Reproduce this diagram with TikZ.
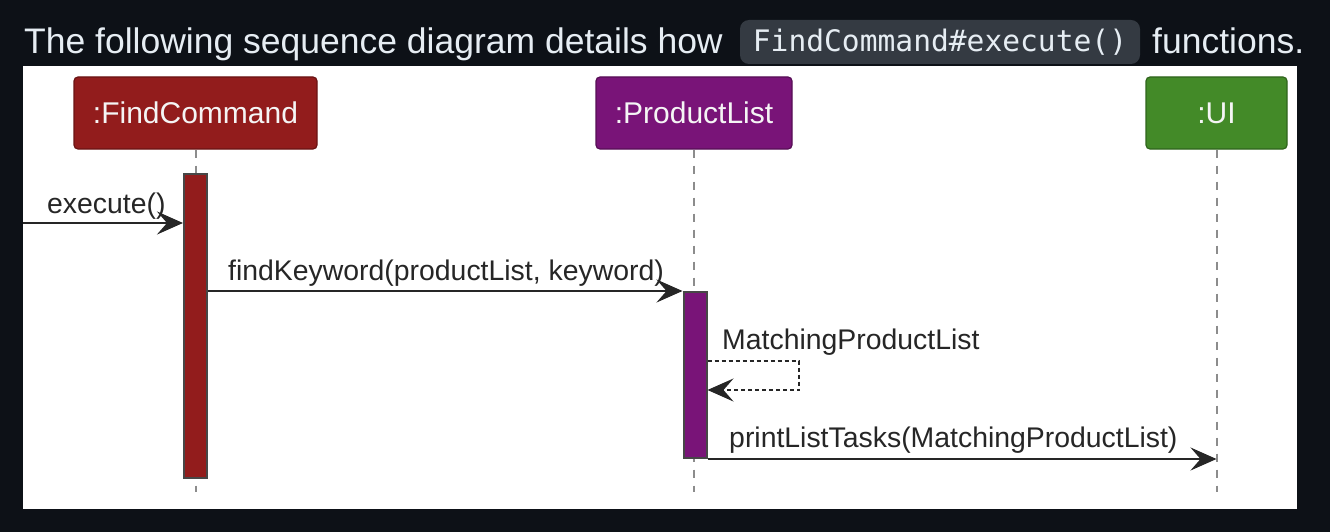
\documentclass[tikz,border=0pt]{standalone}
\usepackage{fontspec}
\setmainfont{Liberation Sans}
\newfontfamily\codefont{DejaVu Sans Mono}
\usetikzlibrary{arrows.meta}
\definecolor{pagebg}{HTML}{0D1117}
\definecolor{titlefg}{HTML}{E6EDF3}
\definecolor{pillbg}{HTML}{343A42}
\definecolor{fcred}{HTML}{921C1C}
\definecolor{fcredd}{HTML}{6A1414}
\definecolor{plpurple}{HTML}{791478}
\definecolor{plpurpled}{HTML}{560E55}
\definecolor{uigreen}{HTML}{438A28}
\definecolor{uigreend}{HTML}{2F641C}
\definecolor{msgfg}{HTML}{262626}
\definecolor{lifegray}{HTML}{8C8C8C}
\tikzset{
  titletext/.style={anchor=base west, inner sep=0pt, text=titlefg, font=\fontsize{35.5}{40}\selectfont},
  part/.style={rounded corners=4pt, line width=1.2pt, minimum height=72pt, inner sep=0pt, text=white!92!gray, font=\fontsize{30}{34}\selectfont},
  lifeline/.style={draw=lifegray, line width=2pt, dash pattern=on 8pt off 8pt},
  actbar/.style={draw=msgfg!85, line width=2pt, minimum width=23pt, inner sep=0pt},
  msg/.style={draw=msgfg, line width=2.2pt, -{Stealth[length=26pt,width=23pt,inset=10pt]}},
  selfmsg/.style={draw=msgfg, line width=1.8pt, dash pattern=on 4pt off 3pt, -{Stealth[length=26pt,width=23pt,inset=10pt]}},
  msglabel/.style={anchor=base west, inner sep=0pt, text=msgfg, font=\fontsize{28.4}{32}\selectfont}
}
\begin{document}
\begin{tikzpicture}[x=1pt,y=-1pt]
\fill[pagebg] (0,0) rectangle (1330,532);
\useasboundingbox (0,0) rectangle (1330,532);
% title
\node[titletext] (t1) at (24,53.5) {The following sequence diagram details how};
\node[fill=pillbg, rounded corners=9pt, minimum width=400pt, minimum height=44pt, inner sep=0pt] (pill) at (940,42) {};
\node[anchor=base, inner sep=0pt, text=titlefg, font=\codefont\fontsize{29.6}{34}\selectfont] (pilltext) at (940,52) {FindCommand\#execute()};
\node[titletext] (t2) at (1152,53.5) {functions.};
% panel
\fill[white] (23,66) rectangle (1297,509);
% participants
\node[part, fill=fcred, draw=fcredd, minimum width=243pt] (fc) at (195.5,113) {:FindCommand};
\node[part, fill=plpurple, draw=plpurpled, minimum width=196pt] (pl) at (694,113) {:ProductList};
\node[part, fill=uigreen, draw=uigreend, minimum width=141pt] (ui) at (1216.5,113) {:UI};
% lifeline ends
\coordinate (fcend) at (195.5,492);
\coordinate (plend) at (694,492);
\coordinate (uiend) at (1216.5,492);
\draw[lifeline] (fc.south) -- (fcend);
\draw[lifeline] (pl.south) -- (plend);
\draw[lifeline] (ui.south) -- (uiend);
% activation bars
\node[actbar, fill=fcred, minimum height=304pt] (fca) at (195.5,326) {};
\node[actbar, fill=plpurple, minimum height=166pt] (pla) at (695,375) {};
% messages
\coordinate (ext) at (23,223);
\draw[msg] (ext) -- (fca.west |- ext);
\node[msglabel] (l1) at (47,213) {execute()};
\draw[msg] (fca.east |- pla.north) -- (pla.north west);
\node[msglabel] (l2) at (228,280) {findKeyword(productList, keyword)};
\coordinate (s1) at (799,361);
\coordinate (s2) at (799,390);
\draw[selfmsg] (pla.east |- s1) -- (s1) -- (s2) -- (pla.east |- s2);
\node[msglabel] (l3) at (722,349) {MatchingProductList};
\draw[msg] (pla.south east) -- (ui.south |- pla.south);
\node[msglabel] (l4) at (729,447) {printListTasks(MatchingProductList)};
\end{tikzpicture}
\end{document}
